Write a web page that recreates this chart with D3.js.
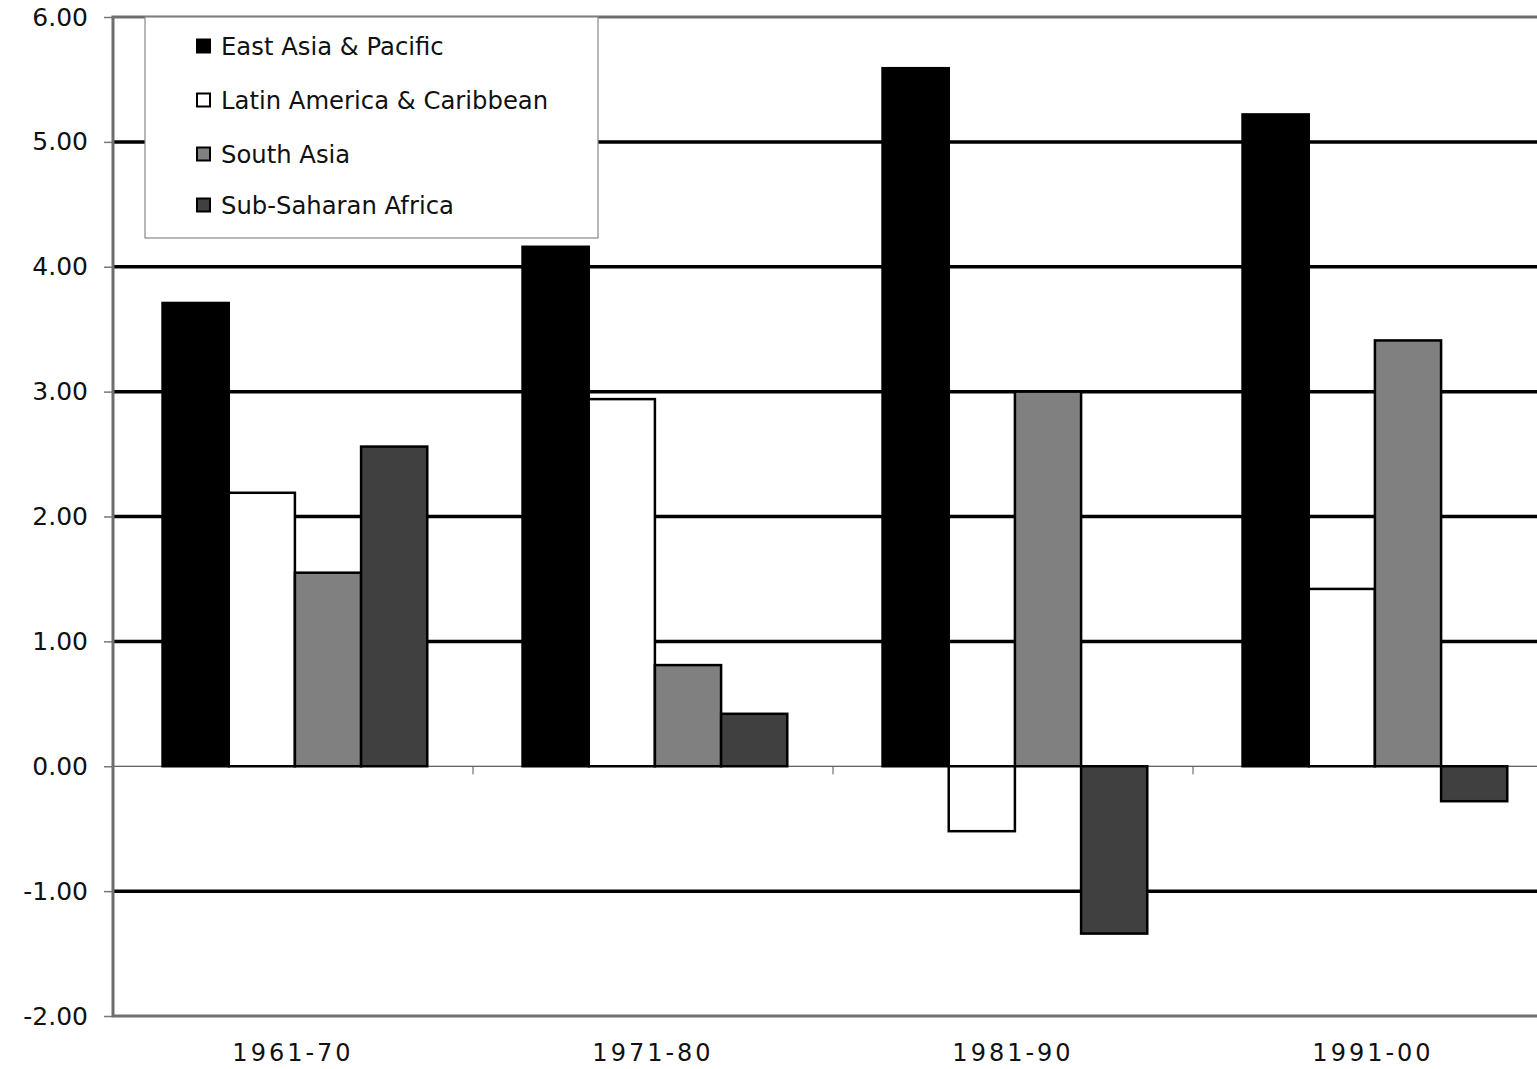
<!DOCTYPE html>
<html>
<head>
<meta charset="utf-8">
<script src="https://cdn.jsdelivr.net/npm/d3@7"></script>
<style>
  body { margin: 0; background: #fff; }
  svg text { font-family: "DejaVu Sans", Verdana, sans-serif; fill: #111; }
</style>
</head>
<body>
<svg id="chart" width="1537" height="1069"></svg>
<script>
// decades on the x axis
const periods = ["1961-70", "1971-80", "1981-90", "1991-00"];
// regions (series)
const regions = ["East Asia & Pacific", "Latin America & Caribbean", "South Asia", "Sub-Saharan Africa"];
const regionColors = ["#000000", "#ffffff", "#808080", "#404040"];
// values per region, in order of periods
const eastAsia = [3.71, 4.16, 5.59, 5.22];
const latinAmerica = [2.19, 2.94, -0.52, 1.42];
const southAsia = [1.55, 0.81, 3.00, 3.41];
const subSaharan = [2.56, 0.42, -1.34, -0.28];
const yTicks = [-2, -1, 0, 1, 2, 3, 4, 5, 6];

const seriesValues = [eastAsia, latinAmerica, southAsia, subSaharan];

const svg = d3.select("#chart");
const plotLeft = 113, plotTop = 17, plotRight = 1553, plotBottom = 1016;

const y = d3.scaleLinear().domain([-2, 6]).range([plotBottom, plotTop]);
const x0 = d3.scaleBand().domain(periods).range([plotLeft, plotRight]);
const x1 = d3.scaleBand().domain(regions).range([0, x0.bandwidth()])
  .paddingInner(0).paddingOuter(0.72).align(0.52);

// gridlines (thick black), skip 0 and the borders
svg.append("g")
  .selectAll("line")
  .data(yTicks.filter(d => d !== 0 && d !== -2 && d !== 6))
  .join("line")
  .attr("x1", plotLeft).attr("x2", plotRight)
  .attr("y1", d => y(d)).attr("y2", d => y(d))
  .attr("stroke", "#000").attr("stroke-width", 3.5);

// y axis labels + ticks; plain hyphen for negatives like the original
const yAxis = svg.append("g").attr("transform", `translate(${plotLeft},0)`)
  .call(d3.axisLeft(y).tickValues(yTicks)
    .tickFormat(d => d.toFixed(2))
    .tickSize(9).tickPadding(16));
yAxis.select(".domain").remove();
yAxis.selectAll(".tick line").attr("stroke", "#777").attr("stroke-width", 1.5);
yAxis.selectAll(".tick text").attr("font-size", 25).attr("fill", "#111")
  .style("font-family", "DejaVu Sans, Verdana, sans-serif");

// zero line
svg.append("line")
  .attr("x1", plotLeft).attr("x2", plotRight)
  .attr("y1", y(0)).attr("y2", y(0))
  .attr("stroke", "#333").attr("stroke-width", 1);

// category ticks on zero line
svg.append("g").selectAll("line")
  .data(periods.slice(1))
  .join("line")
  .attr("x1", d => x0(d)).attr("x2", d => x0(d))
  .attr("y1", y(0)).attr("y2", y(0) + 8)
  .attr("stroke", "#555").attr("stroke-width", 1);

// bars
const groups = svg.append("g").selectAll("g")
  .data(periods)
  .join("g")
  .attr("transform", d => `translate(${x0(d)},0)`);

groups.selectAll("rect")
  .data((p, i) => regions.map((r, j) => ({ region: r, value: seriesValues[j][i], color: regionColors[j] })))
  .join("rect")
  .attr("x", d => x1(d.region))
  .attr("width", x1.bandwidth())
  .attr("y", d => y(Math.max(0, d.value)))
  .attr("height", d => Math.abs(y(d.value) - y(0)))
  .attr("fill", d => d.color)
  .attr("stroke", "#000")
  .attr("stroke-width", 2.5);

// plot border
svg.append("rect")
  .attr("x", plotLeft).attr("y", plotTop)
  .attr("width", plotRight - plotLeft).attr("height", plotBottom - plotTop)
  .attr("fill", "none").attr("stroke", "#6e6e6e").attr("stroke-width", 3);

// category labels
svg.append("g").selectAll("text")
  .data(periods)
  .join("text")
  .attr("x", d => x0(d) + x0.bandwidth() / 2)
  .attr("y", 1061)
  .attr("text-anchor", "middle")
  .attr("font-size", 24)
  .attr("letter-spacing", "3px")
  .text(d => d);

// legend
const legend = svg.append("g").attr("transform", "translate(145,17)");
legend.append("rect")
  .attr("width", 453).attr("height", 221)
  .attr("fill", "#fff").attr("stroke", "#888").attr("stroke-width", 1.2);
const legendRows = [29, 83, 137, 188];
const item = legend.selectAll("g.item")
  .data(regions)
  .join("g")
  .attr("class", "item")
  .attr("transform", (d, i) => `translate(52,${legendRows[i]})`);
item.append("rect")
  .attr("x", 0).attr("y", -6.5).attr("width", 13).attr("height", 13)
  .attr("fill", (d, i) => regionColors[i])
  .attr("stroke", "#000").attr("stroke-width", 2);
item.append("text")
  .attr("x", 24).attr("y", 0).attr("dy", "0.36em")
  .attr("font-size", 24.3)
  .text(d => d);
</script>
</body>
</html>
